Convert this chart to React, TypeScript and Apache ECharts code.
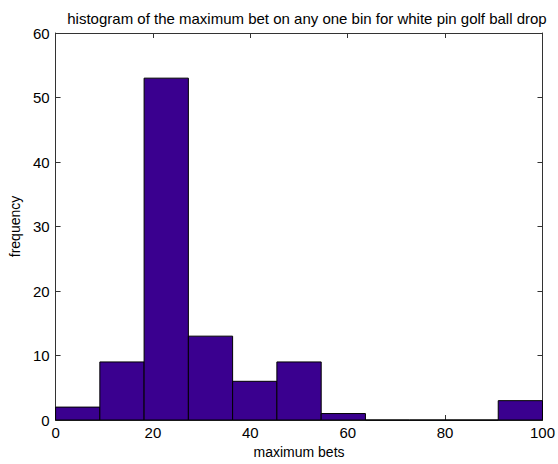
import React, { useEffect, useRef } from "react";
import * as echarts from "echarts";

const binEdges = [0, 9.09, 18.18, 27.27, 36.36, 45.45, 54.55, 63.64, 72.73, 81.82, 90.91, 100];
const counts = [2, 9, 53, 13, 6, 9, 1, 0, 0, 0, 3];
const titleText = "histogram of the maximum bet on any one bin for white pin golf ball drop";
const xName = "maximum bets";
const yName = "frequency";

export default function App() {
  const ref = useRef<HTMLDivElement>(null);
  useEffect(() => {
    if (!ref.current) return;
    const chart = echarts.init(ref.current, null, { renderer: "svg" });
    const data = counts.map((c, i) => [binEdges[i], binEdges[i + 1], c]);
    const font = "Liberation Sans, Arial, sans-serif";
    const axisLine = { show: true, onZero: false, lineStyle: { color: "#333", width: 1 } };
    const tick = { show: true, inside: true, length: 5, lineStyle: { color: "#333" } };
    chart.setOption({
      animation: false,
      title: {
        text: titleText,
        left: 302,
        textAlign: "center",
        top: 6,
        textStyle: { fontFamily: font, fontSize: 15, fontWeight: "normal", color: "#000" },
      },
      grid: { left: 53, right: 12, top: 33, bottom: 43, containLabel: false },
      xAxis: [
        {
          type: "value", min: 0, max: 100, interval: 20,
          axisLine, axisTick: tick, splitLine: { show: false },
          axisLabel: { fontFamily: font, fontSize: 15, color: "#000", margin: 5 },
          name: xName, nameLocation: "middle", nameGap: 25,
          nameTextStyle: { fontFamily: font, fontSize: 14, color: "#000" },
        },
        {
          type: "value", min: 0, max: 100, interval: 20, position: "top",
          axisLine, axisTick: tick, splitLine: { show: false }, axisLabel: { show: false },
        },
      ],
      yAxis: [
        {
          type: "value", min: 0, max: 60, interval: 10,
          axisLine, axisTick: tick, splitLine: { show: false },
          axisLabel: { fontFamily: font, fontSize: 15, color: "#000", margin: 6 },
          name: yName, nameLocation: "middle", nameGap: 32,
          nameTextStyle: { fontFamily: font, fontSize: 14, color: "#000" },
        },
        {
          type: "value", min: 0, max: 60, interval: 10, position: "right",
          axisLine, axisTick: tick, splitLine: { show: false }, axisLabel: { show: false },
        },
      ],
      series: [
        {
          type: "custom",
          xAxisIndex: 0,
          yAxisIndex: 0,
          data,
          renderItem: (params: any, api: any) => {
            const p0 = api.coord([api.value(0), api.value(2)]);
            const p1 = api.coord([api.value(1), 0]);
            return {
              type: "rect",
              shape: { x: p0[0], y: p0[1], width: p1[0] - p0[0], height: p1[1] - p0[1] },
              style: { fill: "#3a008f", stroke: "#000", lineWidth: 1 },
            };
          },
        },
      ],
    });
    return () => chart.dispose();
  }, []);
  return (
    <div
      ref={ref}
      style={{ position: "absolute", left: 0, top: 0, width: 558, height: 464 }}
    />
  );
}
